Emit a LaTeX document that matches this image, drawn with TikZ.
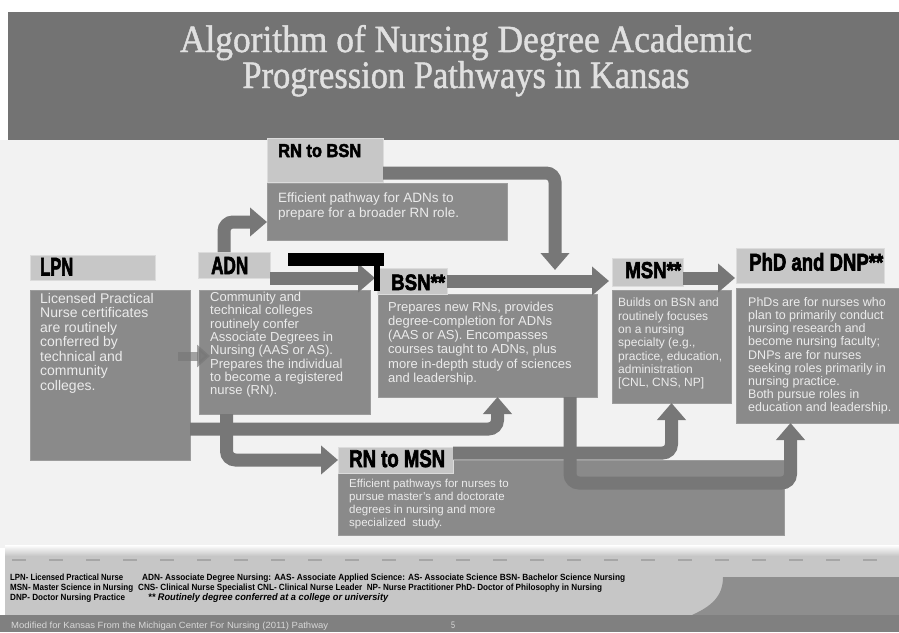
\documentclass[tikz,border=0pt]{standalone}
\usepackage{fontspec}
\usepackage{graphicx}
\setmainfont{Liberation Sans}
\newfontfamily\bodyfont{Liberation Sans}
\newfontfamily\titlefont[FakeBold=1.2]{Liberation Serif}
\newfontfamily\hdfont[BoldFeatures={FakeBold=3}]{Liberation Sans}
\usetikzlibrary{arrows.meta,calc}

\definecolor{bandgray}{HTML}{737373}
\definecolor{titlegray}{HTML}{E0E0E0}
\definecolor{hdrgray}{HTML}{C7C7C7}
\definecolor{hdredge}{HTML}{DCDCDC}
\definecolor{bodygray}{HTML}{8A8A8A}
\definecolor{bodyedge}{HTML}{9C9C9C}
\definecolor{txtlight}{HTML}{EBEBEB}
\definecolor{arrgray}{HTML}{777777}
\definecolor{bggray}{HTML}{F2F2F2}
\definecolor{stripgray}{HTML}{C6C6C6}
\definecolor{darkpanel}{HTML}{8E8E8E}
\definecolor{footgray}{HTML}{808080}
\definecolor{foottext}{HTML}{D8D8D8}
\definecolor{tickgray}{HTML}{A6A6A6}

\newcommand\fitto[3]{\resizebox{#1pt}{#2pt}{#3}}

\begin{document}
\begin{tikzpicture}[x=1pt,y=-1pt,
  box/.style={anchor=north west, inner sep=0pt, outer sep=0pt},
  hdrbox/.style={box, fill=hdrgray, draw=hdredge, line width=0.8pt},
  bodybox/.style={box, fill=bodygray, draw=bodyedge, line width=0.6pt},
  hdrtxt/.style={anchor=base west, inner sep=0pt, font=\hdfont\bfseries, text=black},
  bodytxt/.style={anchor=north west, inner sep=0pt, align=left, text=txtlight},
  flow/.style={draw=arrgray, line width=13pt, rounded corners=9pt, -{Triangle[width=28pt,length=17pt]}},
  smallflow/.style={draw=arrgray, line width=9pt, opacity=0.65, -{Triangle[width=22pt,length=13pt]}},
  titletxt/.style={anchor=base, inner sep=0pt, font=\titlefont, text=titlegray},
  legtxt/.style={anchor=base west, inner sep=0pt, font=\bodyfont\bfseries, text=black},
  foottxt/.style={anchor=base west, inner sep=0pt, font=\bodyfont, text=foottext}
]
\useasboundingbox (0,0) rectangle (899,632);
% backgrounds
\fill[white] (0,0) rectangle (899,632);
\fill[bggray] (0,140) rectangle (899,548);
\fill[bandgray] (8,12) rectangle (899,140);
\shade[top color=white, bottom color=stripgray] (5,545) rectangle (899,556);
\fill[stripgray] (5,556) rectangle (899,615);
\fill[darkpanel] (723,577) -- (899,577) -- (899,615) -- (692,615)
   .. controls (712,606) and (723,596) .. (723,577) -- cycle;
\fill[footgray] (0,615) rectangle (899,632);
\draw[tickgray, line width=2pt, dash pattern=on 14pt off 23pt] (12,560) -- (899,560);

% title
\node[titletxt] (title1) at (466,52) {\fitto{572}{27}{Algorithm of Nursing Degree Academic}};
\node[titletxt] (title2) at (466,88) {\fitto{447}{27}{Progression Pathways in Kansas}};

% body boxes
\node[bodybox, minimum width=160pt, minimum height=170pt] (lpnb) at (30,290) {};
\node[bodybox, minimum width=171pt, minimum height=124pt] (adnb) at (199,290) {};
\node[bodybox, minimum width=240pt, minimum height=57pt] (rbb) at (267,183) {};
\node[bodybox, minimum width=219pt, minimum height=103pt] (bsnb) at (378,294) {};
\node[bodybox, minimum width=119pt, minimum height=113pt] (msnb) at (612,290) {};
\node[bodybox, minimum width=163pt, minimum height=135pt] (phdb) at (736,288) {};
\node[bodybox, minimum width=446pt, minimum height=75pt] (rmb) at (338,460) {};

% header boxes
\node[hdrbox, minimum width=125pt, minimum height=25pt] (lpnh) at (30,255) {};
\node[hdrbox, minimum width=72pt, minimum height=26pt] (adnh) at (198,252) {};
\node[hdrbox, minimum width=116pt, minimum height=44pt] (rbh) at (267,138) {};
\node[hdrbox, minimum width=70pt, minimum height=26pt] (bsnh) at (377,268) {};
\node[hdrbox, minimum width=71pt, minimum height=28pt] (msnh) at (612,258) {};
\node[hdrbox, minimum width=148pt, minimum height=35pt] (phdh) at (736,248) {};
\node[hdrbox, minimum width=115pt, minimum height=26pt] (rmh) at (338,447) {};

% connectors
\draw[flow] ($(adnh.north)+(-10,0)$) |- ($(rbb.west)+(0,10.5)$);
\draw[flow] ($(rbh.east)+(0,13)$) -| ($(bsnb.north east)+(-42,-24)$);
\draw[flow] ($(adnh.east)+(0,13)$) -- ($(adnh.east -| bsnh.west)+(-2,13)$);
\draw[flow] (bsnh.east) -- ($(bsnh.east -| msnh.west)+(-3,0)$);
\draw[flow] ($(msnh.east)+(0,6)$) -- ($(msnh.east -| phdh.west)+(-1,6)$);
\draw[smallflow] ($(lpnb.east)+(-12,-19)$) -- ($(lpnb.east -| adnb.west)+(11,-19)$);
\draw[flow] ($(lpnb.east)+(0,54)$) -| ($(bsnb.south)+(10,0)$);
\draw[flow] ($(adnb.south)+(-58,0)$) |- (rmh.west);
\draw[flow] ($(rmh.east)+(0,-7)$) -| (msnb.south);
\draw[flow] ($(bsnb.south east)+(-27,0)$) -- ++(0,86) -| ($(phdb.south)+(-27,0)$);

% black bar
\fill[black] (288,253) rectangle (384,266);
\fill[black] (374,266) rectangle (380,291);

% header texts
\node[hdrtxt] (lpnt) at (40,275.5) {\fitto{33}{17.5}{LPN}};
\node[hdrtxt] (adnt) at (211,274) {\fitto{37}{17}{ADN}};
\node[hdrtxt] (rbt) at (278,157) {\fitto{83}{13}{RN to BSN}};
\node[hdrtxt] (bsnt) at (391,290) {\fitto{54}{15.5}{BSN**}};
\node[hdrtxt] (msnt) at (625,278) {\fitto{56}{16}{MSN**}};
\node[hdrtxt] (phdt) at (749,270.5) {\fitto{134}{17.5}{PhD and DNP**}};
\node[hdrtxt] (rmt) at (349,467) {\fitto{96}{17}{RN to MSN}};

% body texts
\node[bodytxt, font=\bodyfont\fontsize{14}{14.5}\selectfont] (lpnx) at (40,293)
 {Licensed Practical\\Nurse certificates\\are routinely\\conferred by\\technical and\\community\\colleges.};
\node[bodytxt, font=\bodyfont\fontsize{13}{13.3}\selectfont] (adnx) at (210,292)
 {Community and\\technical colleges\\routinely confer\\Associate Degrees in\\Nursing (AAS or AS).\\Prepares the individual\\to become a registered\\nurse (RN).};
\node[bodytxt, font=\bodyfont\fontsize{13.5}{14.3}\selectfont] (rbx) at (278,193)
 {Efficient pathway for ADNs to\\prepare for a broader RN role.};
\node[bodytxt, font=\bodyfont\fontsize{13}{14.1}\selectfont] (bsnx) at (388,302)
 {Prepares new RNs, provides\\degree-completion for ADNs\\(AAS or AS). Encompasses\\courses taught to ADNs, plus\\more in-depth study of sciences\\and leadership.};
\node[bodytxt, font=\bodyfont\fontsize{12}{13.3}\selectfont] (msnx) at (618,298)
 {Builds on BSN and\\routinely focuses\\on a nursing\\specialty (e.g.,\\practice, education,\\administration\\{[CNL, CNS, NP]}};
\node[bodytxt, font=\bodyfont\fontsize{12.5}{13.2}\selectfont] (phdx) at (748,297)
 {PhDs are for nurses who\\plan to primarily conduct\\nursing research and\\become nursing faculty;\\DNPs are for nurses\\seeking roles primarily in\\nursing practice.\\Both pursue roles in\\education and leadership.};
\node[bodytxt, font=\bodyfont\fontsize{11.5}{13}\selectfont] (rmx) at (349,479)
 {Efficient pathways for nurses to\\pursue master’s and doctorate\\degrees in nursing and more\\specialized\ \ study.};

% legend
\node[legtxt] (leg1a) at (10,580) {\fitto{113}{6.5}{LPN- Licensed Practical Nurse}};
\node[legtxt] (leg1b) at (142,580) {\fitto{483}{6.5}{ADN- Associate Degree Nursing: AAS- Associate Applied Science: AS- Associate Science BSN- Bachelor Science Nursing}};
\node[legtxt] (leg2a) at (10,590) {\fitto{123}{6.5}{MSN- Master Science in Nursing}};
\node[legtxt] (leg2b) at (138,590) {\fitto{464}{6.5}{CNS- Clinical Nurse Specialist CNL- Clinical Nurse Leader\ \ NP- Nurse Practitioner PhD- Doctor of Philosophy in Nursing}};
\node[legtxt] (leg3a) at (10,600) {\fitto{115}{6.5}{DNP- Doctor Nursing Practice}};
\node[legtxt, font=\bodyfont\bfseries\itshape] (leg3b) at (148,600) {\fitto{240}{7}{** Routinely degree conferred at a college or university}};

% footer
\node[foottxt] (foot) at (11,628) {\fitto{317}{6.5}{Modified for Kansas From the Michigan Center For Nursing (2011) Pathway}};
\node[foottxt] (pagenum) at (451,628) {\fitto{4}{6.5}{5}};
\end{tikzpicture}
\end{document}
